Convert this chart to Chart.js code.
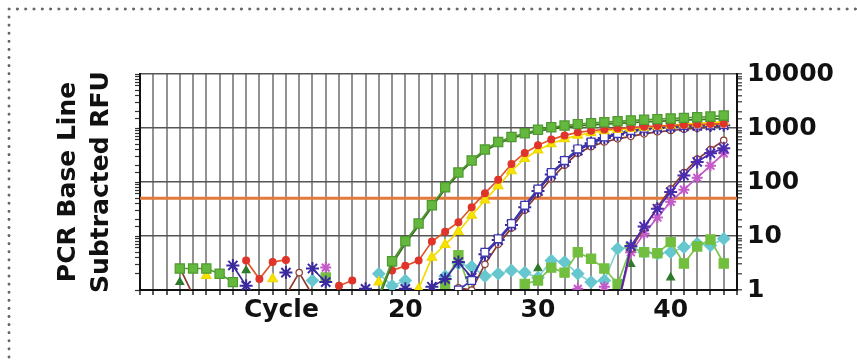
<!DOCTYPE html>
<html>
<head>
<meta charset="utf-8">
<script src="https://cdn.jsdelivr.net/npm/chart.js@4.4.0/dist/chart.umd.min.js"></script>
<style>
  html, body { margin: 0; padding: 0; background: #fff; }
  #wrap { position: relative; width: 857px; height: 361px; overflow: hidden; }
  #wrap canvas { position: absolute; left: 0; top: 0; }
  .dots-top { position: absolute; left: 5px; top: 7px; width: 852px; height: 4px;
    background: radial-gradient(circle at 4px 2px, #666 1.2px, rgba(255,255,255,0) 1.8px) 0 0 / 8.3px 4px repeat-x; }
  .dots-left { position: absolute; left: 7px; top: 13px; width: 4px; height: 348px;
    background: radial-gradient(circle at 2px 4px, #666 1.2px, rgba(255,255,255,0) 1.8px) 0 0 / 4px 8.1px repeat-y; }
</style>
</head>
<body>
<div id="wrap">
  <canvas id="pcr" width="857" height="361"></canvas>
  <div class="dots-top"></div>
  <div class="dots-left"></div>
</div>
<script>
const cycles = [1,2,3,4,5,6,7,8,9,10,11,12,13,14,15,16,17,18,19,20,21,22,23,24,25,26,27,28,29,30,31,32,33,34,35,36,37,38,39,40,41,42,43,44];
const threshold = 50;
const decadeLabels = [1, 10, 100, 1000, 10000];

// amplification curves, RFU per cycle (null = no reading)
const greenSq   = [null,null,2.5,2.5,2.5,2.0,1.4,null,null,null,null,null,null,null,null,null,null,0.8,3.4,8,17,37,80,150,250,400,550,680,800,930,1030,1110,1180,1230,1280,1330,1380,1420,1460,1500,1540,1580,1630,1700];
const greenTri  = [null,null,null,null,null,null,null,null,null,null,null,null,null,null,null,null,null,0.7,3.0,7.2,15.5,34,74,140,235,375,515,640,760,870,960,1030,1090,1140,1180,1220,1260,1300,1330,1370,1400,1430,1460,1500];
const redDot    = [null,null,null,null,null,null,null,3.5,1.6,3.3,3.6,null,null,null,1.2,1.5,null,null,2.3,2.8,3.5,7.9,12,18,34,62,110,215,345,480,610,730,830,890,940,980,1020,1060,1090,1110,1140,1160,1180,1200];
const yellowTri = [null,null,null,null,1.85,null,null,null,null,1.6,null,null,null,null,null,null,null,1.4,null,null,1.05,4.0,6.9,12,24,46,85,160,270,390,510,630,730,810,880,930,980,1030,1080,1130,1180,1220,1260,1300];
const blueSq    = [null,null,null,null,null,null,null,null,null,null,null,null,null,null,null,null,null,null,null,null,null,null,null,1.0,1.5,5.0,8.9,17,37,74,150,250,410,550,685,790,900,990,1050,1090,1110,1130,1140,1160];
const navyStar  = [null,null,null,null,null,null,2.85,1.2,null,null,2.1,null,2.5,1.4,null,null,1.05,null,null,1.05,null,1.15,1.6,3.3,1.7,4.6,8.4,16,34,68,138,235,380,520,650,760,860,940,1000,1040,1070,1090,1110,1130];
const brownCirc = [null,null,2.6,0.8,null,null,null,null,null,null,0.8,2.1,0.8,null,null,null,null,null,null,null,null,null,null,1.1,1.0,3.0,7.0,14,30,60,115,205,340,450,550,630,700,780,850,900,950,990,1040,1100];
const lateStar  = [null,null,null,null,null,null,null,null,null,null,null,null,null,null,null,null,null,null,null,null,null,null,null,null,null,null,null,null,null,null,null,null,null,null,null,0.5,6.5,15,32,65,132,235,340,420];
const lateCirc  = [null,null,null,null,null,null,null,null,null,null,null,null,null,null,null,null,null,null,null,null,null,null,null,null,null,null,null,null,null,null,null,null,null,null,null,0.5,5.8,14,34,75,150,265,400,590];
const pinkStar  = [null,null,null,null,null,null,null,null,null,null,null,null,null,2.6,null,null,null,null,null,null,null,null,null,null,null,null,null,null,null,null,null,null,1.05,null,1.15,0.5,5.0,11,22,43,72,120,200,340];
const cyanDia   = [null,null,null,null,null,null,null,null,null,null,null,null,1.5,null,null,null,null,2.0,1.2,1.5,null,null,1.8,3.1,2.7,1.8,2.0,2.3,2.1,1.7,3.5,3.3,2.0,1.4,1.5,5.8,6.2,5.0,4.7,5.0,6.2,7.2,6.7,8.9];
const greenNoise= [null,null,null,null,null,null,null,null,null,null,null,null,null,1.7,null,null,null,null,null,null,null,null,1.3,4.4,0.8,null,null,null,1.3,1.5,2.6,2.1,5.0,3.8,2.5,1.3,6.0,5.0,4.8,7.7,3.1,6.4,8.6,3.1];
const darkTri   = [null,null,1.4,null,null,null,null,2.3,null,null,null,null,null,null,null,null,null,null,null,null,null,null,null,null,null,null,null,null,null,2.5,null,null,null,null,null,null,3.0,null,null,1.7,null,null,null,null];

const boldFont = { family: 'DejaVu Sans', weight: 'bold', size: 25 };

function pts(vals) {
  return cycles.map((c, i) => ({ x: c, y: vals[i] }));
}

function series(vals, line, style, radius, fill, border, width) {
  return {
    data: pts(vals),
    yAxisID: 'y',
    borderColor: line,
    borderWidth: width || 1.7,
    pointStyle: style,
    pointRadius: radius,
    pointBackgroundColor: fill,
    pointBorderColor: border,
    pointBorderWidth: style === 'star' ? 2 : 1.2,
    tension: 0,
    spanGaps: false
  };
}

function isDecade(v) {
  const l = Math.log10(v);
  return Math.abs(l - Math.round(l)) < 1e-6;
}

const datasets = [
  series(greenSq, '#4f9a30', 'rect', 6.5, '#63b83d', '#4f9a30'),
  series(greenTri, '#3c6f22', 'triangle', 3.5, '#3a7a25', '#3a7a25'),
  series(redDot, '#e0562b', 'circle', 3.4, '#e0342a', '#e0342a'),
  series(yellowTri, '#f2dc00', 'triangle', 5.5, '#f6e400', '#f0d800'),
  series(blueSq, '#3c36aa', 'rect', 5.5, '#ffffff', '#3c36aa'),
  series(navyStar, '#3a2a9e', 'star', 6.5, '#3a2a9e', '#3a2a9e'),
  series(brownCirc, '#8c3b33', 'circle', 3.2, '#ffffff', '#8c3b33'),
  series(lateStar, '#4b2cb0', 'star', 6.5, '#4b2cb0', '#4b2cb0'),
  series(lateCirc, '#8c3b33', 'circle', 3.2, '#ffffff', '#8c3b33'),
  series(pinkStar, '#c35ac8', 'star', 5.5, '#c35ac8', '#c35ac8'),
  series(greenNoise, '#7cc44a', 'rect', 6.5, '#72be3e', '#72be3e'),
  series(cyanDia, '#86d2d8', 'rectRot', 6, '#66c7cf', '#66c7cf'),
  series(darkTri, '#2e7a2a', 'triangle', 4.5, '#2e7a2a', '#2e7a2a'),
  {
    data: [{ x: 0, y: threshold }, { x: 45, y: threshold }],
    yAxisID: 'y',
    borderColor: '#e4793c',
    borderWidth: 3,
    pointRadius: 0
  }
];

new Chart(document.getElementById('pcr'), {
  type: 'line',
  data: { datasets },
  options: {
    responsive: false,
    animation: false,
    devicePixelRatio: 1,
    layout: { padding: { top: 74, left: 0, right: 0, bottom: 0 } },
    plugins: { legend: { display: false }, tooltip: { enabled: false } },
    scales: {
      x: {
        type: 'linear',
        min: 0,
        max: 45,
        ticks: {
          stepSize: 1,
          autoSkip: false,
          maxRotation: 0,
          padding: 0,
          color: '#111',
          font: boldFont,
          callback: v => v === 10 ? '  Cycle' : (v >= 20 && v % 10 === 0 ? String(v) : '')
        },
        grid: { color: 'rgba(100,100,100,0.7)', lineWidth: 2, tickLength: 5, tickColor: '#222', tickWidth: 1.5 },
        border: { color: '#111', width: 2 },
        afterFit(s) { s.height = 71; }
      },
      yL: {
        type: 'logarithmic',
        position: 'left',
        min: 1,
        max: 10000,
        ticks: { display: false },
        grid: { drawOnChartArea: false, tickLength: 5, tickColor: '#333', tickWidth: 1.2 },
        border: { color: '#111', width: 2 },
        title: {
          display: true,
          text: ['PCR Base Line', 'Subtracted RFU'],
          color: '#111',
          font: { family: 'DejaVu Sans', weight: 'bold', size: 25, lineHeight: 1.32 },
          padding: { top: 52, bottom: 0 }
        },
        afterFit(s) { s.width = 140; }
      },
      y: {
        type: 'logarithmic',
        position: 'right',
        min: 1,
        max: 10000,
        ticks: {
          autoSkip: false,
          padding: 5,
          color: '#111',
          font: boldFont,
          callback: v => isDecade(v) && decadeLabels.includes(Math.round(v)) ? String(Math.round(v)) : ''
        },
        grid: {
          color: ctx => ctx.tick && isDecade(ctx.tick.value) ? '#555' : 'rgba(0,0,0,0)',
          lineWidth: 1.6,
          tickLength: 5,
          tickColor: '#333',
          tickWidth: 1.2
        },
        border: { color: '#111', width: 2 },
        afterFit(s) { s.width = 120; }
      }
    }
  }
});
</script>
</body>
</html>
